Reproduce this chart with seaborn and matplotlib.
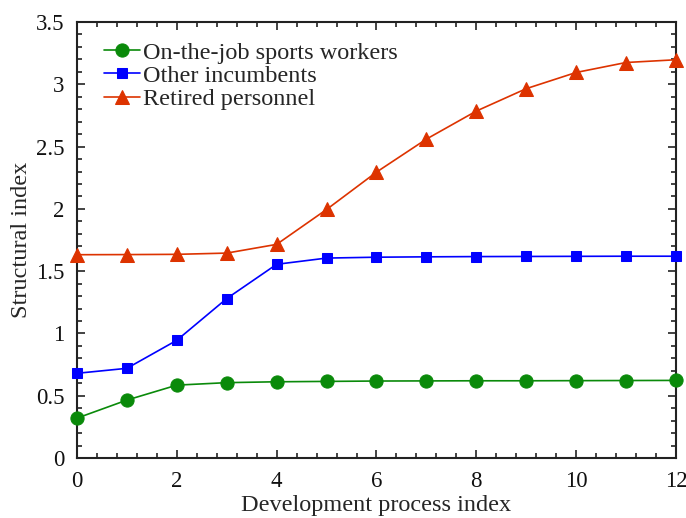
import matplotlib
matplotlib.use("Agg")
import matplotlib.pyplot as plt
from matplotlib.ticker import MultipleLocator
import seaborn as sns
import pandas as pd

x_index = list(range(13))
on_the_job = [0.32, 0.465, 0.585, 0.605, 0.612, 0.615, 0.618, 0.619, 0.62, 0.62, 0.621, 0.622, 0.623]
other_incumbents = [0.68, 0.72, 0.945, 1.28, 1.555, 1.605, 1.612, 1.615, 1.617, 1.618, 1.619, 1.62, 1.62]
retired = [1.632, 1.633, 1.635, 1.645, 1.715, 1.995, 2.295, 2.56, 2.785, 2.965, 3.095, 3.175, 3.197]

series_names = ["On-the-job sports workers", "Other incumbents", "Retired personnel"]
colors = ["#0a8a0a", "#0000ff", "#dd3300"]
markers = ["o", "s", "^"]
msizes = [9.5, 7.5, 10]

sns.set_style("ticks")
plt.rcParams["font.family"] = ["Liberation Serif", "DejaVu Serif"]

fig = plt.figure(figsize=(6.86, 5.18), dpi=100)
ax = fig.add_axes([0.1122, 0.1158, 0.8732, 0.8417])

frames = []
for name, vals in zip(series_names, [on_the_job, other_incumbents, retired]):
    frames.append(pd.DataFrame({"x": x_index, "y": vals, "series": name}))
df = pd.concat(frames, ignore_index=True)

for name, c, m, ms in zip(series_names, colors, markers, msizes):
    sub = df[df["series"] == name]
    sns.lineplot(data=sub, x="x", y="y", ax=ax, color=c, marker=m, markersize=ms,
                 markeredgecolor=c, markerfacecolor=c, linewidth=1.2, label=name,
                 clip_on=False, zorder=3)

ax.set_xlim(0, 12)
ax.set_ylim(0, 3.5)
ax.xaxis.set_minor_locator(MultipleLocator(0.4))
ax.yaxis.set_minor_locator(MultipleLocator(0.1))
ax.set_xticks([0, 2, 4, 6, 8, 10, 12])
ax.set_xticklabels(["0", "2", "4", "6", "8", "10", "12"])
ax.set_yticks([0, 0.5, 1, 1.5, 2, 2.5, 3, 3.5])
ax.set_yticklabels(["0", "0.5", "1", "1.5", "2", "2.5", "3", "3.5"])
ax.tick_params(which="both", direction="in", top=True, right=True, width=1.2, colors="#222222")
ax.tick_params(which="major", length=6, labelsize=16.5, labelcolor="#111111")
ax.tick_params(axis="x", which="major", pad=9)
ax.tick_params(axis="y", which="major", pad=9)
ax.tick_params(which="minor", length=3.5)
for sp in ax.spines.values():
    sp.set_linewidth(1.5)
    sp.set_color("#222222")

ax.set_xlabel("Development process index", fontsize=17.5)
ax.set_ylabel("Structural index", fontsize=17.5)
ax.xaxis.set_label_coords(0.5, -0.108)
ax.yaxis.set_label_coords(-0.092, 0.5)
ax.xaxis.label.set_va("center")
ax.yaxis.label.set_va("center")

leg = ax.legend(loc="upper left", frameon=False, fontsize=17.5, handlelength=1.5,
                handletextpad=0.12, borderaxespad=0.0, labelspacing=0.05,
                borderpad=0.0, bbox_to_anchor=(0.045, 0.955))

fig.savefig("out.png", dpi=100)
